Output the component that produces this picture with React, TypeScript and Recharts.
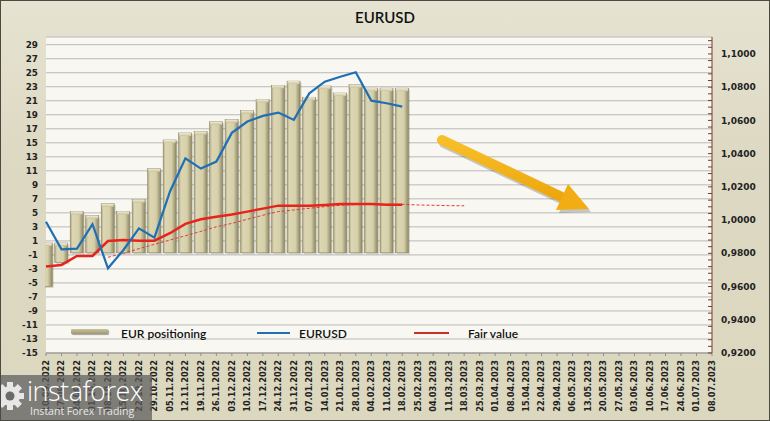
import React from 'react';
import { ComposedChart, Bar, Line, XAxis, YAxis, CartesianGrid } from 'recharts';

// weekly dates on the x axis
const weeks = [
  '10.09.2022', '17.09.2022', '24.09.2022', '01.10.2022', '08.10.2022', '15.10.2022',
  '22.10.2022', '29.10.2022', '05.11.2022', '12.11.2022', '19.11.2022', '26.11.2022',
  '03.12.2022', '10.12.2022', '17.12.2022', '24.12.2022', '31.12.2022', '07.01.2023',
  '14.01.2023', '21.01.2023', '28.01.2023', '04.02.2023', '11.02.2023', '18.02.2023',
  '25.02.2023', '04.03.2023', '11.03.2023', '18.03.2023', '25.03.2023', '01.04.2023',
  '08.04.2023', '15.04.2023', '22.04.2023', '29.04.2023', '06.05.2023', '13.05.2023',
  '20.05.2023', '27.05.2023', '03.06.2023', '10.06.2023', '17.06.2023', '24.06.2023',
  '01.07.2023', '08.07.2023',
];

// EUR positioning bars (left axis), drawn as floating bars low..high
const positioningHigh = [
  0.7, 0.7, 5.2, 4.6, 6.3, 5.2, 6.9, 11.3, 15.4, 16.4, 16.6, 18.0,
  18.3, 19.6, 21.2, 23.2, 23.8, 21.5, 23.1, 22.1, 23.3, 22.8, 22.8, 22.8,
];
const positioningLow = [
  -5.5, -2.1, -0.7, -0.7, -0.7, -0.7, -0.7, -0.7, -0.7, -0.7, -0.7, -0.7,
  -0.7, -0.7, -0.7, -0.7, -0.7, -0.7, -0.7, -0.7, -0.7, -0.7, -0.7, -0.7,
];

// right axis series
const eurusd = [
  0.999, 0.9824, 0.9828, 0.9975, 0.971, 0.982, 0.995, 0.9894, 1.0171, 1.0372, 1.031, 1.0352,
  1.0525, 1.0593, 1.0627, 1.0647, 1.0603, 1.0763, 1.0833, 1.0863, 1.089, 1.0719, 1.0703, 1.0683,
];
const fairValue = [
  0.972, 0.973, 0.9784, 0.9784, 0.9874, 0.988, 0.9876, 0.9876, 0.9921, 0.9977, 1.0005, 1.002,
  1.0034, 1.0051, 1.0069, 1.0087, 1.0087, 1.0087, 1.0091, 1.0097, 1.0097, 1.0097, 1.0093, 1.0093,
];
// dotted fair value trend, from 08.10.2022 to 18.03.2023
const trendStart = 4;
const fairTrend = [
  0.9776, 0.98, 0.9828, 0.9854, 0.988, 0.9906, 0.9932, 0.996, 0.998, 1.0005, 1.0029, 1.0051,
  1.0061, 1.0071, 1.0081, 1.0089, 1.0093, 1.0095, 1.0095, 1.0095, 1.0091, 1.0089, 1.0087, 1.0086,
];

const leftTicks = [-15, -13, -11, -9, -7, -5, -3, -1, 1, 3, 5, 7, 9, 11, 13, 15, 17, 19, 21, 23, 25, 27, 29];
const rightLabels = [0.92, 0.94, 0.96, 0.98, 1.0, 1.02, 1.04, 1.06, 1.08, 1.1];
// minor tick marks every 0.004
const rightTicks = Array.from({ length: 48 }, (_, k) => Math.round((0.92 + k * 0.004) * 10000) / 10000);

const data = weeks.map((w, i) => ({
  i,
  pos: i < positioningHigh.length ? [positioningLow[i], positioningHigh[i]] : null,
  eur: i < eurusd.length ? eurusd[i] : null,
  fair: i < fairValue.length ? fairValue[i] : null,
  trend: i >= trendStart && i < trendStart + fairTrend.length ? fairTrend[i - trendStart] : null,
}));

const tickFont = '"DejaVu Sans", Verdana, sans-serif';

const DateTick = (props: any) => {
  const { x, y, payload } = props;
  return (
    <text
      x={x}
      y={y}
      transform={`rotate(-90 ${x} ${y})`}
      textAnchor="end"
      dy="0.35em"
      fontSize={8.2}
      fontWeight="bold"
      fontFamily={tickFont}
      fill="#222"
    >
      {weeks[payload.value]}
    </text>
  );
};

const RightTick = (props: any) => {
  const { x, y, payload } = props;
  const v = payload.value;
  const major = rightLabels.some((l) => Math.abs(l - v) < 1e-6);
  return (
    <g>
      <line x1={x - 13} x2={x - 9} y1={y} y2={y} stroke="#7a3b2e" strokeWidth={1} />
      {major && (
        <text x={x} y={y} dy="0.35em" fontSize={9} fontWeight="bold" fontFamily={tickFont} fill="#222">
          {v.toFixed(4).replace('.', ',')}
        </text>
      )}
    </g>
  );
};

const BarShape = (props: any) => {
  const { x, y, width, height } = props;
  if (x == null || y == null || !width) return null;
  const top = Math.min(y, y + height);
  const h = Math.abs(height);
  return (
    <g clipPath="url(#plotClip)">
      <rect x={x + 1.5} y={top + 1.5} width={width} height={h} fill="rgba(60,55,30,0.18)" />
      <rect x={x} y={top} width={width} height={h} fill="url(#barGrad)" stroke="#8a8462" strokeWidth={0.6} />
      <rect x={x + 0.5} y={top} width={width - 1} height={3} fill="url(#capGrad)" />
    </g>
  );
};

const LegendOverlay = () => {
  const text: React.CSSProperties = {
    position: 'absolute',
    top: 326,
    fontFamily: 'Lato, "Noto Sans", sans-serif',
    fontSize: 12,
    fontWeight: 600,
    color: '#111',
    whiteSpace: 'nowrap',
  };
  return (
    <>
      <div
        style={{
          position: 'absolute', left: 71, top: 329, width: 37, height: 5, borderRadius: 1,
          background: 'linear-gradient(#c9c39d, #9f9872)', boxShadow: '1px 1px 1px rgba(0,0,0,0.35)',
        }}
      />
      <div style={{ ...text, left: 121 }}>EUR positioning</div>
      <div style={{ position: 'absolute', left: 257, top: 332, width: 33, height: 2, background: '#1f6fb5' }} />
      <div style={{ ...text, left: 299 }}>EURUSD</div>
      <div style={{ position: 'absolute', left: 414, top: 332, width: 35, height: 2, background: '#c4302a' }} />
      <div style={{ ...text, left: 468 }}>Fair value</div>
    </>
  );
};

const Arrow = () => (
  <svg width={770} height={421} style={{ position: 'absolute', left: 0, top: 0, pointerEvents: 'none' }}>
    <defs>
      <linearGradient id="arrowGrad" x1="0" y1="0" x2="0" y2="1">
        <stop offset="0%" stopColor="#f8bf2a" />
        <stop offset="100%" stopColor="#eda60c" />
      </linearGradient>
    </defs>
    <g transform="translate(2,3)" opacity={0.25}>
      <line x1={442} y1={140} x2={566} y2={199} stroke="#333" strokeWidth={10} strokeLinecap="round" />
      <polygon points="568,185 589,209 557,210" fill="#333" />
    </g>
    <line x1={442} y1={140} x2={566} y2={199} stroke="url(#arrowGrad)" strokeWidth={10} strokeLinecap="round" />
    <polygon points="568,184 589,209 556,210" fill="#f2ad14" />
  </svg>
);

const Watermark = () => (
  <div
    style={{
      position: 'absolute', left: 0, top: 375, width: 152, height: 46,
      background: 'rgba(95,95,95,0.75)', color: '#fff', overflow: 'hidden',
    }}
  >
    <svg width={30} height={46} style={{ position: 'absolute', left: 0, top: 0 }}>
      <g transform="translate(10,21)" fill="#e6e6e6">
        {[0, 45, 90, 135, 180, 225, 270, 315].map((a) => (
          <rect key={a} x={-3} y={-14} width={6} height={7} transform={`rotate(${a})`} />
        ))}
        <circle r={10} />
        <circle r={4.5} fill="#6a6a6a" />
      </g>
    </svg>
    <div
      style={{
        position: 'absolute', left: 27, top: 1, fontFamily: '"Open Sans", sans-serif', fontWeight: 300,
        fontSize: 27, lineHeight: '30px', letterSpacing: -0.5, whiteSpace: 'nowrap',
      }}
    >
      instaforex
    </div>
    <div
      style={{
        position: 'absolute', left: 30, top: 30, fontFamily: '"Open Sans", sans-serif', fontSize: 10.5,
        lineHeight: '13px', color: '#e8e8e8', whiteSpace: 'nowrap',
      }}
    >
      Instant Forex Trading
    </div>
  </div>
);

const App: React.FC = () => {
  return (
    <div
      style={{
        position: 'absolute', left: 0, top: 0, width: 770, height: 421, overflow: 'hidden',
        background: 'linear-gradient(#e6e3d2, #dcd8c1 40%, #dcd8c0)',
      }}
    >
      <div
        style={{
          position: 'absolute', top: 8, width: 770, textAlign: 'center',
          fontFamily: 'Lato, "Noto Sans", sans-serif', fontSize: 15, fontWeight: 600, color: '#111',
        }}
      >
        EURUSD
      </div>
      <ComposedChart width={770} height={421} data={data} margin={{ top: 37, right: 0, bottom: 0, left: 0 }}>
        <defs>
          <linearGradient id="barGrad" x1="0" y1="0" x2="1" y2="0">
            <stop offset="0%" stopColor="#aaa47e" />
            <stop offset="18%" stopColor="#dcd6b3" />
            <stop offset="65%" stopColor="#d5cfaa" />
            <stop offset="100%" stopColor="#8e8864" />
          </linearGradient>
          <linearGradient id="capGrad" x1="0" y1="0" x2="0" y2="1">
            <stop offset="0%" stopColor="#f1edd6" />
            <stop offset="100%" stopColor="#c9c39e" />
          </linearGradient>
          <clipPath id="plotClip">
            <rect x={45} y={0} width={668} height={421} />
          </clipPath>
        </defs>
        <CartesianGrid yAxisId="left" vertical={false} stroke="#b9b9b9" fill="#f8f7f2" />
        <XAxis
          dataKey="i"
          type="number"
          domain={[0, 43]}
          ticks={weeks.map((_, i) => i)}
          interval={0}
          height={68}
          tick={<DateTick />}
          tickSize={3}
          tickMargin={4}
          stroke="#8c8c8c"
        />
        <YAxis
          yAxisId="left"
          orientation="left"
          width={46}
          domain={[-15, 30.1]}
          ticks={leftTicks}
          interval={0}
          axisLine={false}
          tickLine={false}
          tickSize={0}
          tickMargin={8}
          allowDataOverflow
          tick={{ fontSize: 8.8, fontWeight: 'bold', fontFamily: tickFont, fill: '#222' }}
        />
        <YAxis
          yAxisId="right"
          orientation="right"
          width={58}
          domain={[0.92, 1.1102]}
          ticks={rightTicks}
          interval={0}
          stroke="#7a3b2e"
          tickLine={false}
          tickSize={0}
          tickMargin={9}
          allowDataOverflow
          tick={<RightTick />}
        />
        <Bar yAxisId="left" dataKey="pos" barSize={13} shape={<BarShape />} isAnimationActive={false} />
        <Line
          yAxisId="right"
          dataKey="trend"
          stroke="#e03a30"
          strokeWidth={1}
          strokeDasharray="3 2"
          dot={false}
          isAnimationActive={false}
        />
        <Line yAxisId="right" dataKey="fair" stroke="#e8231b" strokeWidth={2.5} dot={false} isAnimationActive={false} />
        <Line yAxisId="right" dataKey="eur" stroke="#1f6fb5" strokeWidth={2.2} dot={false} isAnimationActive={false} />
      </ComposedChart>
      <LegendOverlay />
      <Arrow />
      <Watermark />
      <div style={{ position: 'absolute', inset: 0, border: '1px solid #4a4a40', pointerEvents: 'none' }} />
    </div>
  );
};

export default App;
